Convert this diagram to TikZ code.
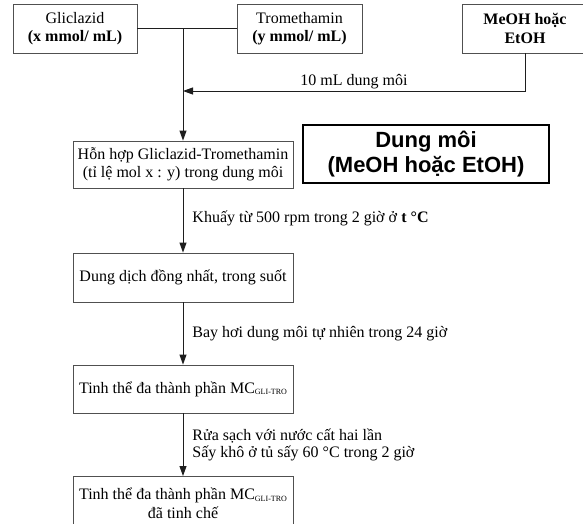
\documentclass[tikz,border=0pt]{standalone}
\usepackage{fontspec}
\setmainfont{Liberation Serif}
\newfontfamily\notefont{Liberation Sans}
\usepackage{tikz}
\usetikzlibrary{arrows.meta}
\definecolor{boxEdge}{RGB}{80,80,80}
\definecolor{lineInk}{RGB}{30,30,30}
\definecolor{noteEdge}{RGB}{0,0,0}
\newcommand{\mcsub}{\raisebox{-1.5pt}{\fontsize{8}{8}\selectfont GLI-TRO}}
\tikzset{
  stagebox/.style={draw=boxEdge,line width=0.9pt,align=center,inner sep=0pt,
    font=\fontsize{16}{18.4}\selectfont},
  flowarrow/.style={draw=lineInk,line width=0.9pt,-{Triangle[length=10pt,width=7pt]}},
  steplabel/.style={right,xshift=9pt,align=left,inner sep=0pt,
    font=\fontsize{16}{17}\selectfont}
}

\begin{document}
\begin{tikzpicture}[x=1pt,y=-1pt]
  \useasboundingbox (0,0) rectangle (583,523);
  \fill[white] (0,0) rectangle (583,523);

  % starting materials
  \node[stagebox,minimum width=124pt,minimum height=49pt] (glic) at (75,28.5)
    {Gliclazid\\\textbf{(x mmol/ mL)}};
  \node[stagebox,minimum width=125pt,minimum height=49pt] (trom) at (299.5,28.5)
    {Tromethamin\\\textbf{(y mmol/ mL)}};
  \node[stagebox,minimum width=126pt,minimum height=49pt] (solv) at (525,28.5)
    {\textbf{MeOH hoặc}\\\textbf{EtOH}};

  % mixing stages
  \node[stagebox,minimum width=220pt,minimum height=47pt] (mix) at (183,164.5)
    {Hỗn hợp Gliclazid-Tromethamin\\(tỉ lệ mol x : y) trong dung môi};
  \node[draw=noteEdge,line width=1.8pt,minimum width=246pt,minimum height=58pt,
    align=center,inner sep=0pt,font=\notefont\bfseries\fontsize{22}{25}\selectfont]
    (note) at (426,154) {Dung môi\\(MeOH hoặc EtOH)};
  \node[stagebox,minimum width=220pt,minimum height=49pt] (sol) at (183,277.5)
    {Dung dịch đồng nhất, trong suốt};
  \node[stagebox,minimum width=220pt,minimum height=48pt] (crys) at (183,389)
    {Tinh thể đa thành phần MC\mcsub};
  \node[stagebox,minimum width=220pt,minimum height=54pt,anchor=north] (pure) at (183,476)
    {Tinh thể đa thành phần MC\mcsub\\đã tinh chế};

  % connectors
  \coordinate (join) at (mix.north |- glic.east);
  \coordinate (merge) at (183,91);
  \draw[draw=lineInk,line width=0.9pt] (glic.east) -- (trom.west);
  \draw[flowarrow] (join) -- (mix.north);
  \draw[flowarrow] (solv.south) |- (merge)
    node[pos=0.75,above,inner sep=1.5pt,font=\fontsize{16}{18}\selectfont] {10 mL dung môi};
  \draw[flowarrow] (mix.south) -- (sol.north)
    node[midway,steplabel,yshift=2pt] {Khuấy từ 500 rpm trong 2 giờ ở \textbf{t °C}};
  \draw[flowarrow] (sol.south) -- (crys.north)
    node[midway,steplabel] {Bay hơi dung môi tự nhiên trong 24 giờ};
  \draw[flowarrow] (crys.south) -- (pure.north)
    node[midway,steplabel] {Rửa sạch với nước cất hai lần\\Sấy khô ở tủ sấy 60 °C trong 2 giờ};
\end{tikzpicture}
\end{document}
